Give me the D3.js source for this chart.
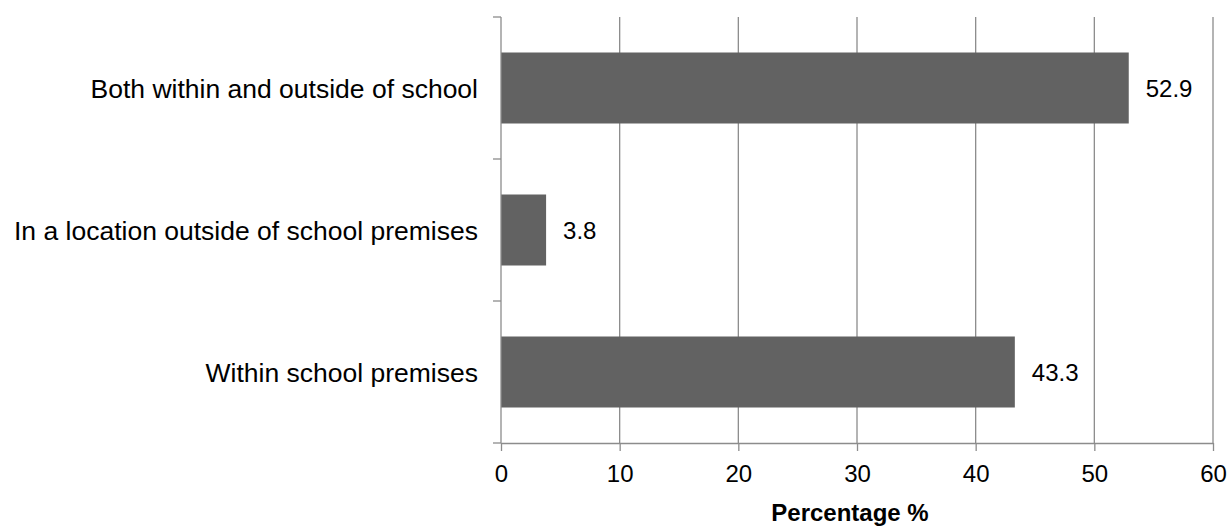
<!DOCTYPE html>
<html>
<head>
<meta charset="utf-8">
<script src="https://cdn.jsdelivr.net/npm/d3@7"></script>
<style>
  html, body { margin: 0; padding: 0; background: #fff; }
  svg { display: block; font-family: "Liberation Sans", Arial, sans-serif; }
</style>
</head>
<body>
<svg id="chart" width="1229" height="527"></svg>
<script>
// Where the incidents took place (share of respondents, %)
const categories = [
  "Both within and outside of school",
  "In a location outside of school premises",
  "Within school premises"
];
const values = [52.9, 3.8, 43.3];
const xTicks = [0, 10, 20, 30, 40, 50, 60];
const axisTitle = "Percentage %";

const svg = d3.select("#chart");
const margin = { top: 17, left: 501, right: 16, bottom: 84 };
const W = 1229, H = 527;

const x = d3.scaleLinear().domain([0, 60]).range([margin.left, W - margin.right]);
const y = d3.scaleBand().domain(categories).range([margin.top, H - margin.bottom]).paddingInner(0.5).paddingOuter(0.25);

const gridColor = "#8c8c8c";
const barColor = "#626262";

// vertical gridlines
svg.append("g")
  .selectAll("line")
  .data(xTicks.filter(d => d > 0))
  .join("line")
  .attr("x1", d => x(d)).attr("x2", d => x(d))
  .attr("y1", margin.top).attr("y2", H - margin.bottom)
  .attr("stroke", gridColor).attr("stroke-width", 1.3);

// bars
svg.append("g")
  .selectAll("rect")
  .data(categories)
  .join("rect")
  .attr("x", x(0))
  .attr("y", d => y(d))
  .attr("width", (d, i) => x(values[i]) - x(0))
  .attr("height", y.bandwidth())
  .attr("fill", barColor);

// value labels
svg.append("g")
  .selectAll("text")
  .data(categories)
  .join("text")
  .attr("x", (d, i) => x(values[i]) + 17)
  .attr("y", d => y(d) + y.bandwidth() / 2)
  .attr("dy", "0.36em")
  .attr("font-size", 24)
  .attr("fill", "#000")
  .text((d, i) => values[i].toFixed(1));

// x axis
const xAxis = svg.append("g")
  .attr("transform", `translate(0,${H - margin.bottom})`)
  .call(d3.axisBottom(x).tickValues(xTicks).tickSize(8).tickSizeOuter(0).tickPadding(14));
xAxis.select(".domain").attr("stroke", gridColor).attr("stroke-width", 1.3);
xAxis.selectAll(".tick line").attr("stroke", gridColor).attr("stroke-width", 1.3);
xAxis.selectAll(".tick text").attr("font-size", 24).attr("fill", "#000")
  .attr("font-family", "'Liberation Sans', Arial, sans-serif");

// y axis: ticks sit on the band boundaries
const yAxis = svg.append("g")
  .attr("transform", `translate(${margin.left},0)`);
const bounds = d3.range(categories.length + 1).map(i =>
  margin.top + i * (H - margin.bottom - margin.top) / categories.length);
yAxis.append("line")
  .attr("x1", 0).attr("x2", 0)
  .attr("y1", margin.top).attr("y2", H - margin.bottom)
  .attr("stroke", gridColor).attr("stroke-width", 1.3);
yAxis.selectAll("line.tk")
  .data(bounds)
  .join("line").attr("class", "tk")
  .attr("x1", -8).attr("x2", 0)
  .attr("y1", d => d).attr("y2", d => d)
  .attr("stroke", gridColor).attr("stroke-width", 1.3);
yAxis.selectAll("text")
  .data(categories)
  .join("text")
  .attr("x", -23)
  .attr("y", d => y(d) + y.bandwidth() / 2)
  .attr("dy", "0.36em")
  .attr("text-anchor", "end")
  .attr("font-size", 26.5)
  .attr("fill", "#000")
  .text(d => d);

// axis title, centred a little left of the plot's middle
svg.append("text")
  .attr("x", (x(0) + x(60)) / 2 - 7)
  .attr("y", 521)
  .attr("text-anchor", "middle")
  .attr("font-size", 24)
  .attr("font-weight", "bold")
  .attr("fill", "#000")
  .text(axisTitle);
</script>
</body>
</html>
